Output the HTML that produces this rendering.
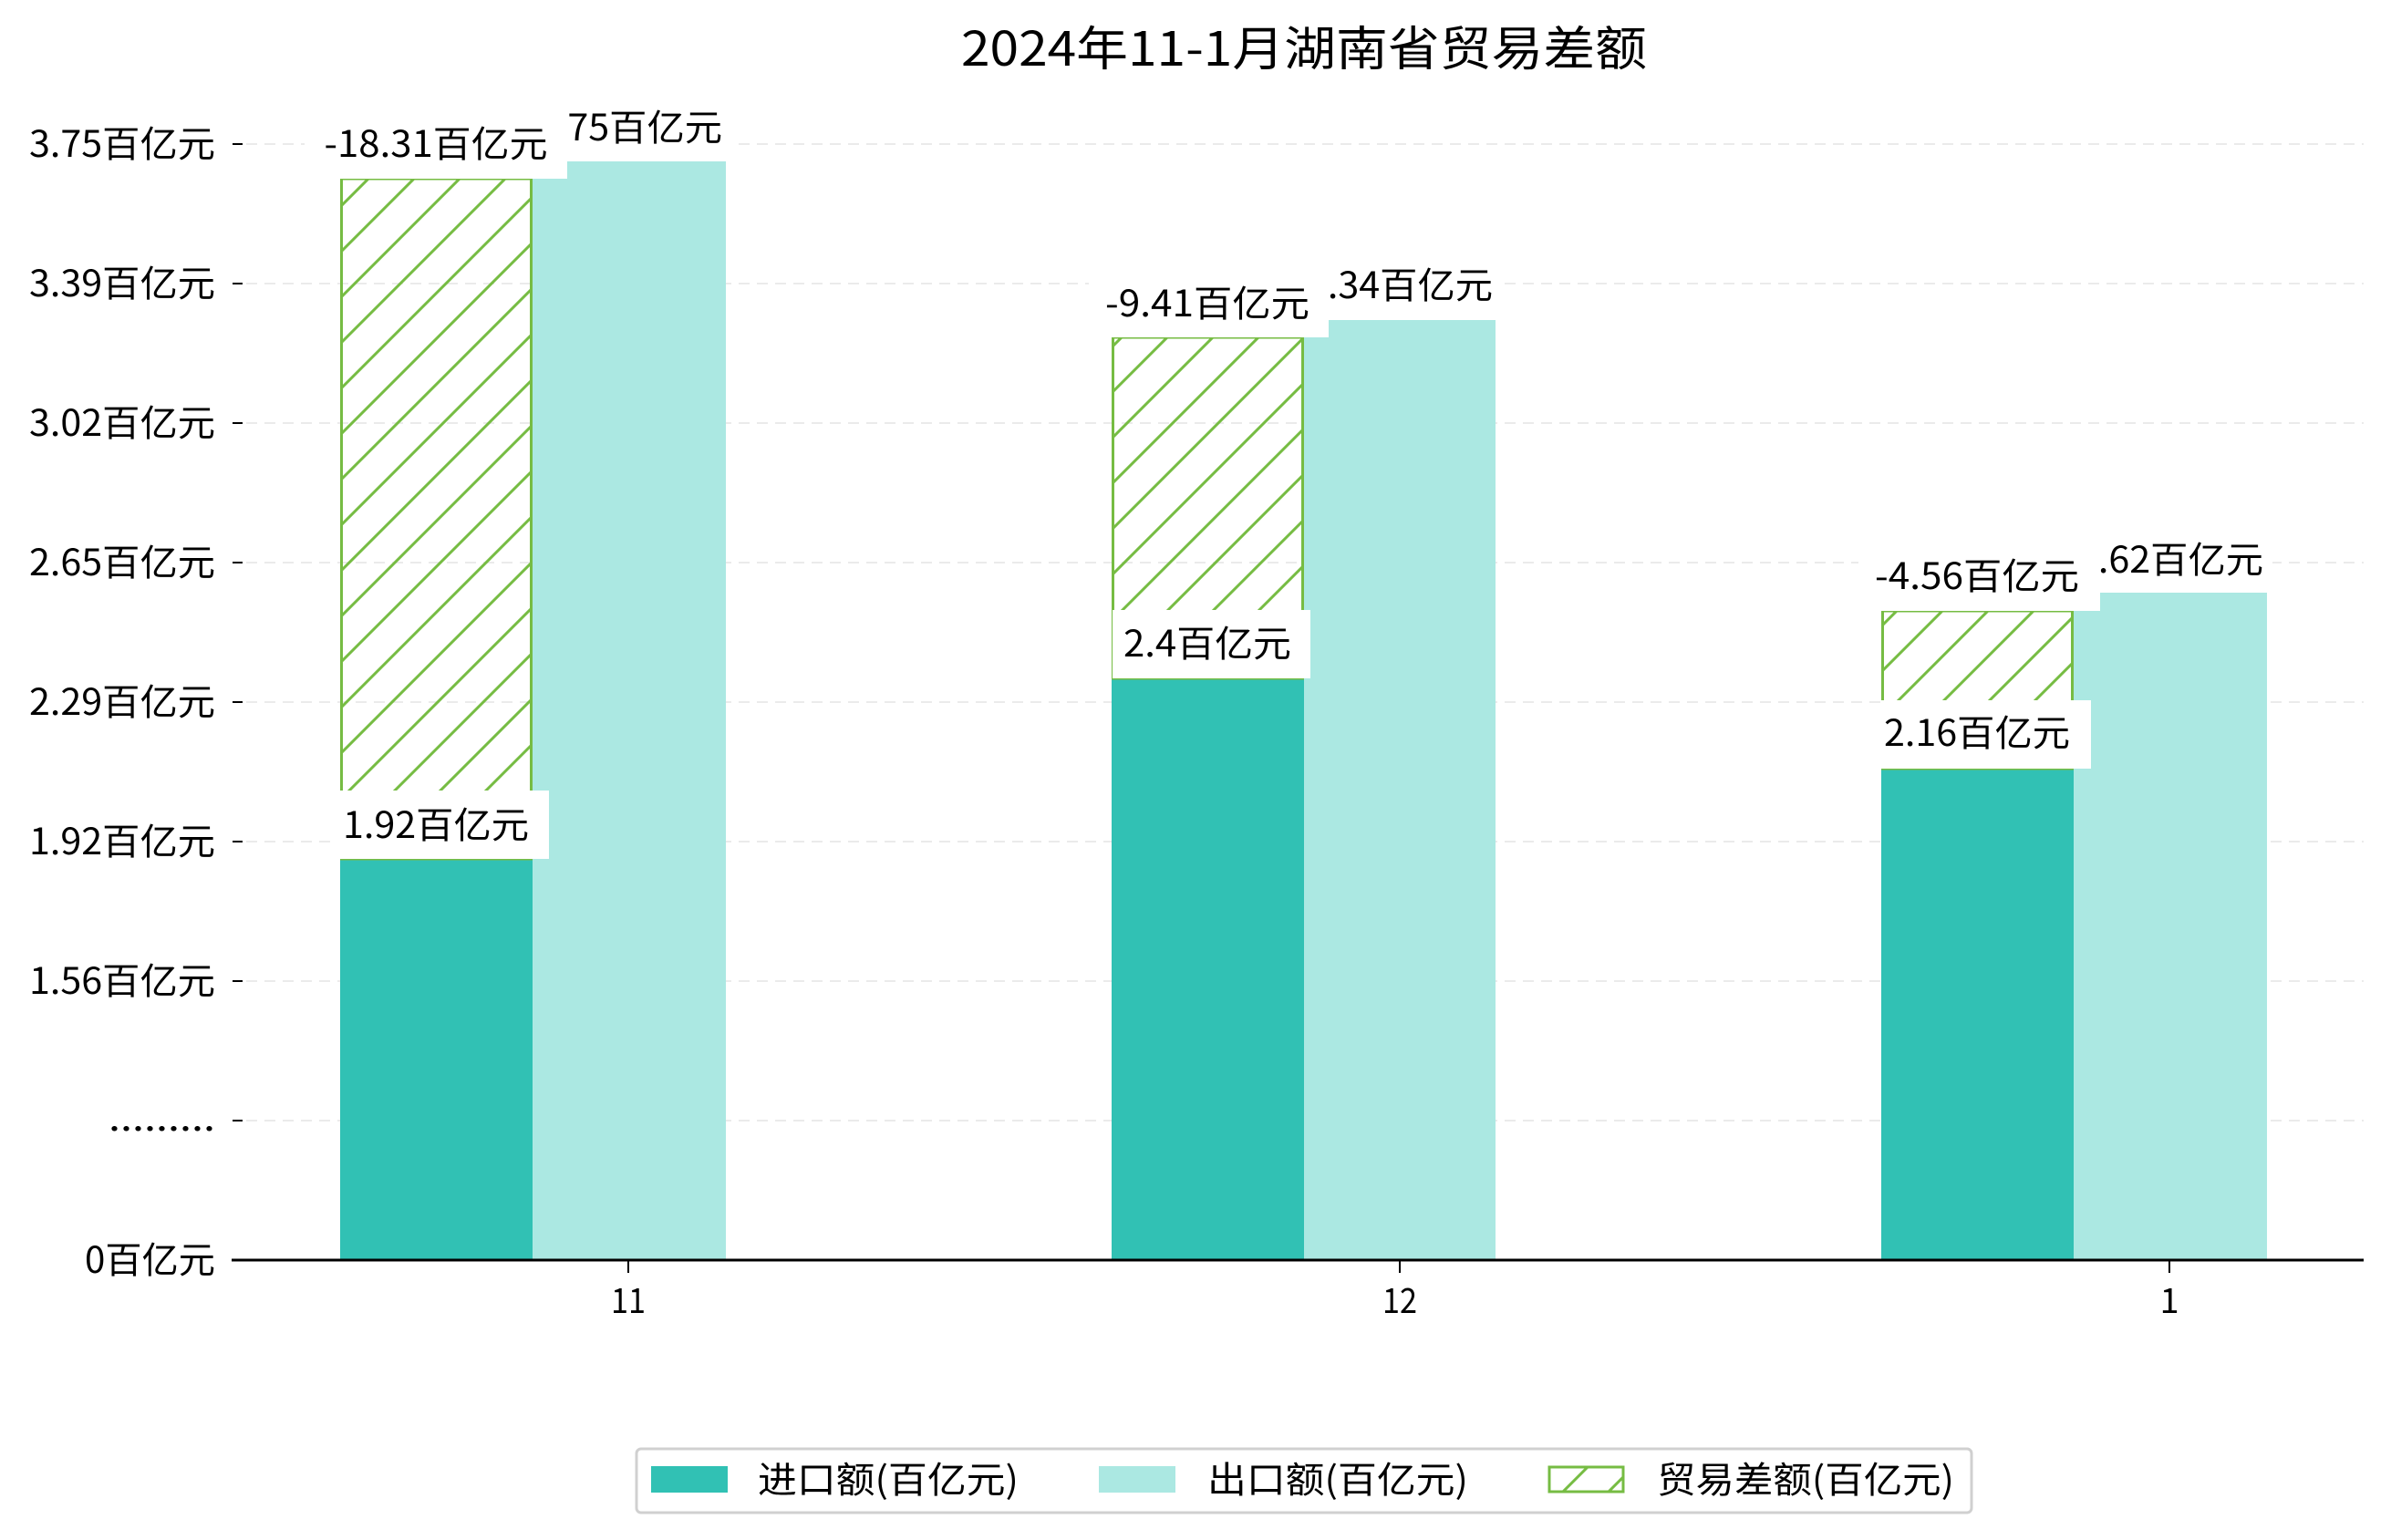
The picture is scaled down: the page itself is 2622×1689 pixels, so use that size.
<!DOCTYPE html>
<html><head><meta charset="utf-8"><style>
html,body{margin:0;padding:0;background:#fff;}
svg{display:block;}
text{font-family:"WenQuanYi Zen Hei","Noto Sans CJK SC",sans-serif;fill:#000;}
</style></head><body>
<svg width="2622" height="1689" viewBox="0 0 2622 1689" xmlns="http://www.w3.org/2000/svg">
<defs>
<pattern id="h" patternUnits="userSpaceOnUse" width="50" height="50">
<line x1="-5" y1="55" x2="55" y2="-5" stroke="#76bc43" stroke-width="3"/>
<line x1="-55" y1="55" x2="5" y2="-5" stroke="#76bc43" stroke-width="3"/>
<line x1="45" y1="55" x2="105" y2="-5" stroke="#76bc43" stroke-width="3"/>
</pattern>
</defs>
<rect width="2622" height="1689" fill="#fff"/>
<text x="1430" y="72" font-size="52" text-anchor="middle" textLength="752" lengthAdjust="spacingAndGlyphs">2024年11-1月湖南省贸易差额</text>
<!-- grid -->
<g stroke="#ebebeb" stroke-width="2" stroke-dasharray="12,8">
<line x1="270" y1="158" x2="2592" y2="158"/>
<line x1="270" y1="311" x2="2592" y2="311"/>
<line x1="270" y1="464" x2="2592" y2="464"/>
<line x1="270" y1="617" x2="2592" y2="617"/>
<line x1="270" y1="770" x2="2592" y2="770"/>
<line x1="270" y1="923" x2="2592" y2="923"/>
<line x1="270" y1="1076" x2="2592" y2="1076"/>
<line x1="270" y1="1229" x2="2592" y2="1229"/>
</g>
<g stroke="#000" stroke-width="2">
<line x1="255" y1="158" x2="266" y2="158"/>
<line x1="255" y1="311" x2="266" y2="311"/>
<line x1="255" y1="464" x2="266" y2="464"/>
<line x1="255" y1="617" x2="266" y2="617"/>
<line x1="255" y1="770" x2="266" y2="770"/>
<line x1="255" y1="923" x2="266" y2="923"/>
<line x1="255" y1="1076" x2="266" y2="1076"/>
<line x1="255" y1="1229" x2="266" y2="1229"/>
<line x1="689" y1="1382" x2="689" y2="1396"/>
<line x1="1535" y1="1382" x2="1535" y2="1396"/>
<line x1="2379" y1="1382" x2="2379" y2="1396"/>
</g>
<g font-size="40" text-anchor="end">
<text x="236" y="172" textLength="204" lengthAdjust="spacingAndGlyphs">3.75百亿元</text>
<text x="236" y="325" textLength="204" lengthAdjust="spacingAndGlyphs">3.39百亿元</text>
<text x="236" y="478" textLength="204" lengthAdjust="spacingAndGlyphs">3.02百亿元</text>
<text x="236" y="631" textLength="204" lengthAdjust="spacingAndGlyphs">2.65百亿元</text>
<text x="236" y="784" textLength="204" lengthAdjust="spacingAndGlyphs">2.29百亿元</text>
<text x="236" y="937" textLength="204" lengthAdjust="spacingAndGlyphs">1.92百亿元</text>
<text x="236" y="1090" textLength="204" lengthAdjust="spacingAndGlyphs">1.56百亿元</text>
<text x="236" y="1240" textLength="117" lengthAdjust="spacingAndGlyphs">.........</text>
<text x="236" y="1396" textLength="143" lengthAdjust="spacingAndGlyphs">0百亿元</text>
</g>
<g font-size="38" text-anchor="middle">
<text x="689" y="1440" textLength="38" lengthAdjust="spacingAndGlyphs">11</text>
<text x="1535" y="1440" textLength="38" lengthAdjust="spacingAndGlyphs">12</text>
<text x="2379" y="1440">1</text>
</g>
<rect x="373" y="942" width="211" height="440" fill="#31c1b4"/>
<rect x="584" y="177" width="212" height="1205" fill="#abe8e2"/>
<rect x="1219" y="744" width="211" height="638" fill="#31c1b4"/>
<rect x="1430" y="351" width="210" height="1031" fill="#abe8e2"/>
<rect x="2063" y="843" width="211" height="539" fill="#31c1b4"/>
<rect x="2274" y="650" width="212" height="732" fill="#abe8e2"/>
<rect x="374.5" y="196" width="208" height="746" fill="url(#h)" stroke="#76bc43" stroke-width="3"/>
<rect x="1220.5" y="370" width="208" height="374" fill="url(#h)" stroke="#76bc43" stroke-width="3"/>
<rect x="2064.5" y="670" width="208" height="173" fill="url(#h)" stroke="#76bc43" stroke-width="3"/>
<g font-size="40" text-anchor="middle">
<rect x="370" y="867" width="232" height="75" fill="#fff"/><text x="478" y="919" textLength="204" lengthAdjust="spacingAndGlyphs">1.92百亿元</text>
<rect x="578" y="102" width="224" height="75" fill="#fff"/><text x="690" y="154" textLength="204" lengthAdjust="spacingAndGlyphs">3.75百亿元</text>
<rect x="334" y="121" width="288" height="75" fill="#fff"/><text x="478" y="172" textLength="245" lengthAdjust="spacingAndGlyphs">-18.31百亿元</text>

<rect x="1220" y="669" width="217" height="75" fill="#fff"/><text x="1324" y="720" textLength="184" lengthAdjust="spacingAndGlyphs">2.4百亿元</text>
<rect x="1423" y="276" width="224" height="75" fill="#fff"/><text x="1535" y="327" textLength="204" lengthAdjust="spacingAndGlyphs">3.34百亿元</text>
<rect x="1194" y="295" width="263" height="75" fill="#fff"/><text x="1324" y="347" textLength="224" lengthAdjust="spacingAndGlyphs">-9.41百亿元</text>

<rect x="2063" y="768" width="230" height="75" fill="#fff"/><text x="2168" y="818" textLength="204" lengthAdjust="spacingAndGlyphs">2.16百亿元</text>
<rect x="2268" y="575" width="224" height="75" fill="#fff"/><text x="2380" y="628" textLength="204" lengthAdjust="spacingAndGlyphs">2.62百亿元</text>
<rect x="2038" y="595" width="265" height="75" fill="#fff"/><text x="2168" y="646" textLength="224" lengthAdjust="spacingAndGlyphs">-4.56百亿元</text>
</g>
<line x1="254" y1="1382" x2="2592" y2="1382" stroke="#000" stroke-width="3"/>
<rect x="698" y="1589" width="1464" height="70" rx="5" fill="#fff" stroke="#d0d0d0" stroke-width="3"/>
<rect x="714" y="1608" width="84" height="29" fill="#31c1b4"/>
<rect x="1205" y="1608" width="84" height="29" fill="#abe8e2"/>
<rect x="1699" y="1609" width="81" height="27" fill="url(#h)" stroke="#76bc43" stroke-width="3"/>
<g font-size="40">
<text x="831" y="1637" textLength="286" lengthAdjust="spacingAndGlyphs">进口额(百亿元)</text>
<text x="1324" y="1637" textLength="286" lengthAdjust="spacingAndGlyphs">出口额(百亿元)</text>
<text x="1817" y="1637" textLength="326" lengthAdjust="spacingAndGlyphs">贸易差额(百亿元)</text>
</g>
</svg>
</body></html>
